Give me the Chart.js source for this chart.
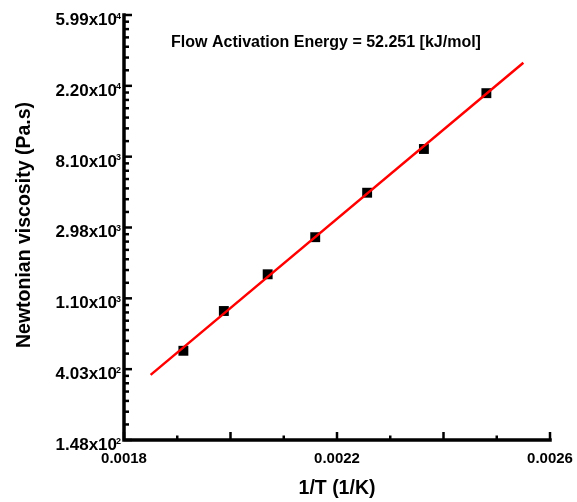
<!DOCTYPE html>
<html lang="en">
<head>
<meta charset="UTF-8">
<title>Flow Activation Energy</title>
<style>
    body { margin: 0; background: #fff; }
    #wrap { width: 577px; height: 502px; }
</style>
</head>
<body>
<div id="wrap"><canvas id="myChart" width="577" height="502"></canvas></div>
<script src="https://cdn.jsdelivr.net/npm/chart.js"></script>
<script>
// measured points (1/T in 1/K, viscosity in Pa.s)
const invT = [0.0019115, 0.0019875, 0.0020698, 0.0021591, 0.0022566, 0.0023632, 0.0024805];
const viscosity = [523, 917, 1540, 2600, 4870, 9030, 19860];

// ends of the fitted Arrhenius line
const fitX = [0.00185, 0.00255];
const fitY = [372, 30500];

const xTicks = [0.0018, 0.0022, 0.0026];
const xTickLabels = ['0.0018', '0.0022', '0.0026'];
const yTicks = [148.41, 403.43, 1096.63, 2980.96, 8103.08, 22026.47, 59874.14];
const yTickLabels = ['1.48x10', '4.03x10', '1.10x10', '2.98x10', '8.10x10', '2.20x10', '5.99x10'];
const yTickPowers = ['2', '2', '3', '3', '3', '4', '4'];

const FONT = '"Liberation Sans", Arial, sans-serif';

const axesPlugin = {
    id: 'axes',
    afterDatasetsDraw(chart) {
        const { ctx, chartArea: a, scales: { x, y } } = chart;
        ctx.save();
        ctx.strokeStyle = '#000';
        ctx.fillStyle = '#000';

        // axis lines
        ctx.lineWidth = 3.5;
        ctx.lineCap = 'square';
        ctx.beginPath();
        ctx.moveTo(a.left, a.top);
        ctx.lineTo(a.left, a.bottom);
        ctx.lineTo(a.right, a.bottom);
        ctx.stroke();

        // x ticks every 0.0001, longer every 0.0002
        ctx.lineWidth = 2.5;
        ctx.lineCap = 'butt';
        for (let k = 18; k <= 26; k++) {
            const px = x.getPixelForValue(k / 10000);
            const len = k % 2 === 0 ? 8 : 4.5;
            ctx.beginPath();
            ctx.moveTo(px, a.bottom);
            ctx.lineTo(px, a.bottom - len);
            ctx.stroke();
        }

        // y ticks: majors plus 6 minors per interval
        yTicks.forEach((v, i) => {
            const py = y.getPixelForValue(v);
            ctx.beginPath();
            ctx.moveTo(a.left, py);
            ctx.lineTo(a.left + 8, py);
            ctx.stroke();
            if (i < yTicks.length - 1) {
                const step = (yTicks[i + 1] - v) / 7;
                for (let j = 1; j < 7; j++) {
                    const pm = y.getPixelForValue(v + step * j);
                    ctx.beginPath();
                    ctx.moveTo(a.left, pm);
                    ctx.lineTo(a.left + 5, pm);
                    ctx.stroke();
                }
            }
        });

        // x tick labels
        ctx.font = 'bold 15px ' + FONT;
        ctx.textAlign = 'center';
        ctx.textBaseline = 'alphabetic';
        xTicks.forEach((v, i) => {
            ctx.fillText(xTickLabels[i], x.getPixelForValue(v), a.bottom + 23);
        });

        // y tick labels with superscript power
        yTicks.forEach((v, i) => {
            const py = y.getPixelForValue(v);
            ctx.font = 'bold 17px ' + FONT;
            ctx.textAlign = 'right';
            ctx.fillText(yTickLabels[i], a.left - 7, py + 10);
            ctx.font = 'bold 9px ' + FONT;
            ctx.textAlign = 'left';
            ctx.fillText(yTickPowers[i], a.left - 8, py + 3.5);
        });

        // axis titles
        ctx.font = 'bold 19.5px ' + FONT;
        ctx.textAlign = 'center';
        ctx.fillText('1/T (1/K)', (a.left + a.right) / 2, 494);
        ctx.save();
        ctx.translate(30, 225);
        ctx.rotate(-Math.PI / 2);
        ctx.fillText('Newtonian viscosity (Pa.s)', 0, 0);
        ctx.restore();

        // annotation
        ctx.font = 'bold 16px ' + FONT;
        ctx.fillText('Flow Activation Energy = 52.251 [kJ/mol]', 326, 46.5);

        ctx.restore();
    }
};

const ctx = document.getElementById('myChart').getContext('2d');
new Chart(ctx, {
    type: 'scatter',
    data: {
        datasets: [
            {
                label: 'fit',
                data: fitX.map((v, i) => ({ x: v, y: fitY[i] })),
                showLine: true,
                borderColor: '#ff0000',
                borderWidth: 2.5,
                pointRadius: 0
            },
            {
                label: 'data',
                data: invT.map((v, i) => ({ x: v, y: viscosity[i] })),
                pointStyle: 'rect',
                pointRadius: 7,
                backgroundColor: '#000',
                borderWidth: 0
            }
        ]
    },
    options: {
        responsive: false,
        devicePixelRatio: 1,
        animation: false,
        layout: { padding: { left: 124, right: 27, top: 15, bottom: 62 } },
        plugins: { legend: { display: false }, tooltip: { enabled: false } },
        scales: {
            x: { type: 'linear', min: 0.0018, max: 0.0026, display: false },
            y: { type: 'logarithmic', min: yTicks[0], max: yTicks[yTicks.length - 1], display: false }
        }
    },
    plugins: [axesPlugin]
});
</script>
</body>
</html>
